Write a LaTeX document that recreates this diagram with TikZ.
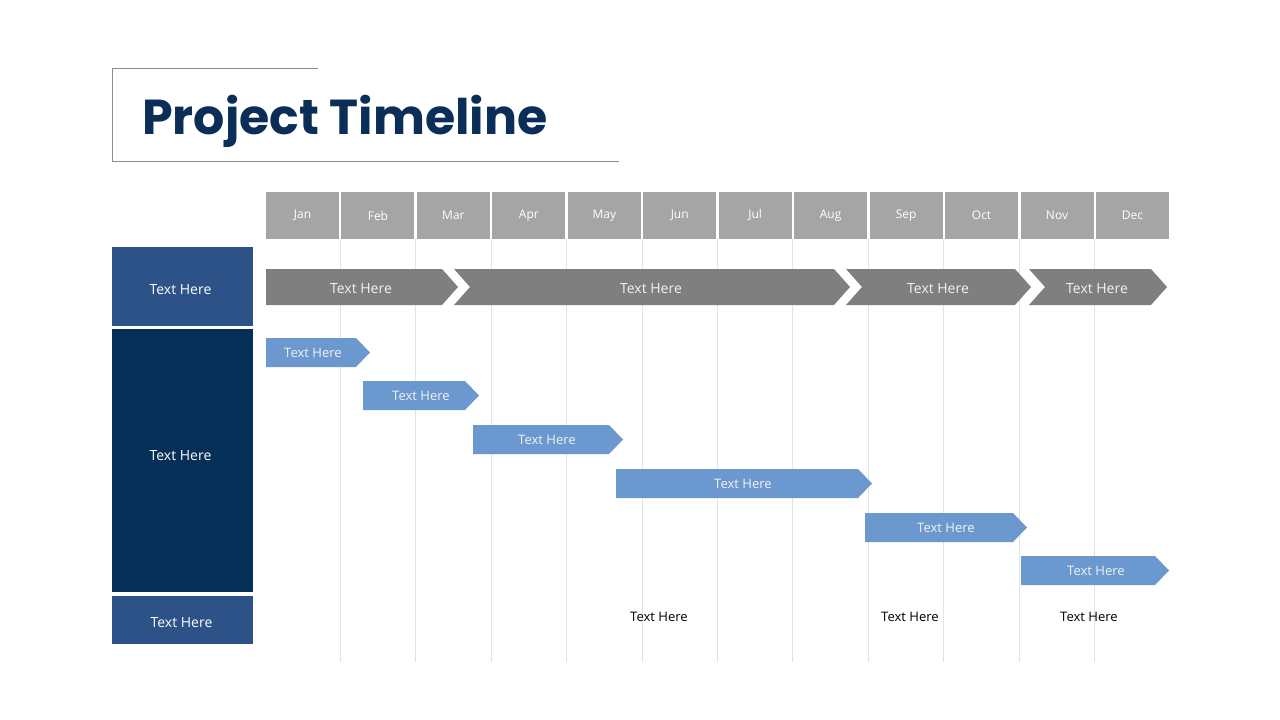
\documentclass[tikz,border=0pt]{standalone}
\usepackage{fontspec}
\setmainfont{Open Sans}
\newfontfamily\titlefont{Poppins}
\definecolor{navy}{HTML}{0B2E59}
\definecolor{midblue}{HTML}{2C5288}
\definecolor{darknavy}{HTML}{062F57}
\definecolor{monthgray}{HTML}{A5A5A5}
\definecolor{chevgray}{HTML}{7F7F7F}
\definecolor{lightblue}{HTML}{6A98CF}
\definecolor{gridgray}{HTML}{E3E3E3}
\definecolor{linegray}{HTML}{8C8C8C}
\tikzset{
  gridline/.style={draw=gridgray, line width=0.75pt},
  titleline/.style={draw=linegray, line width=0.75pt},
  monthbox/.style={fill=monthgray, minimum width=54.75pt, minimum height=35.25pt, inner sep=0pt, text=white, font=\fontsize{9}{10}\selectfont},
  sidebox/.style={minimum width=105.75pt, inner sep=0pt},
  sidetext/.style={text=white, font=\fontsize{10.5}{12}\selectfont, inner sep=0pt},
  chevfill/.style={fill=chevgray},
  chevtext/.style={text=white!95!black, font=\fontsize{10.5}{12}\selectfont, inner sep=0pt},
  bluefill/.style={fill=lightblue},
  bluetext/.style={text=white!95!black, font=\fontsize{9.8}{12}\selectfont, inner sep=0pt},
  plaintext/.style={text=black, font=\fontsize{9.8}{12}\selectfont, inner sep=0pt},
}
\newcommand\bluearrow[6]{%
  \fill[bluefill] (#1,{#3-14.5}) -- ({#2-14},{#3-14.5}) -- (#2,#3) -- ({#2-14},{#3+14.5}) -- (#1,{#3+14.5}) -- cycle;
  \node[bluetext] (#4) at (#5,{#3+0.8}) {#6};}
\begin{document}
\begin{tikzpicture}[x=0.75pt,y=-0.75pt]
\useasboundingbox (0,0) rectangle (1280,720);
\fill[white] (0,0) rectangle (1280,720);
% grid lines
\foreach \i in {0,...,10} \draw[gridline] ({340.2+75.45*\i},239) -- ({340.2+75.45*\i},662);
% title
\draw[titleline] (318,69) -- (112,69) -- (112,162) -- (619,162);
\node[anchor=base west, inner sep=0pt, text=navy, font=\titlefont\bfseries\fontsize{36.8}{40}\selectfont] (title) at (142,135) {Project Timeline};
% months
\foreach \m [count=\i from 0] in {Jan,Feb,Mar,Apr,May,Jun,Jul,Aug,Sep,Oct,Nov,Dec}
  \node[monthbox] (m\i) at ({302.5+75.45*\i},215.5) {\m};
% side boxes
\node[sidebox, fill=midblue, minimum height=59.25pt] (s1) at (182.5,286.5) {};
\node[sidebox, fill=darknavy, minimum height=197.25pt] (s2) at (182.5,460.5) {};
\node[sidebox, fill=midblue, minimum height=36pt] (s3) at (182.5,620) {};
\node[sidetext] (s1t) at (180.5,290) {Text Here};
\node[sidetext] (s2t) at (180.5,456) {Text Here};
\node[sidetext] (s3t) at (181.5,623) {Text Here};
% gray chevrons
\fill[chevfill] (266,269) -- (442,269) -- (458,287) -- (442,305) -- (266,305) -- cycle;
\fill[chevfill] (454,269) -- (834,269) -- (850,287) -- (834,305) -- (454,305) -- (470,287) -- cycle;
\fill[chevfill] (846,269) -- (1015,269) -- (1031,287) -- (1015,305) -- (846,305) -- (862,287) -- cycle;
\fill[chevfill] (1029,269) -- (1151,269) -- (1167,287) -- (1151,305) -- (1029,305) -- (1045,287) -- cycle;
\node[chevtext] (c1) at (361,289) {Text Here};
\node[chevtext] (c2) at (651,289) {Text Here};
\node[chevtext] (c3) at (938,289) {Text Here};
\node[chevtext] (c4) at (1097,289) {Text Here};
% blue arrows
\bluearrow{266}{370}{352.5}{a1}{313}{Text Here}
\bluearrow{363}{479}{395.5}{a2}{421}{Text Here}
\bluearrow{473}{623}{439.5}{a3}{547}{Text Here}
\bluearrow{616}{872}{483.5}{a4}{743}{Text Here}
\bluearrow{865}{1027}{527.5}{a5}{946}{Text Here}
\bluearrow{1021}{1169}{570.5}{a6}{1096}{Text Here}
% bottom labels
\node[plaintext] (b1) at (659,617) {Text Here};
\node[plaintext] (b2) at (910,617) {Text Here};
\node[plaintext] (b3) at (1089,617) {Text Here};
\end{tikzpicture}
\end{document}
